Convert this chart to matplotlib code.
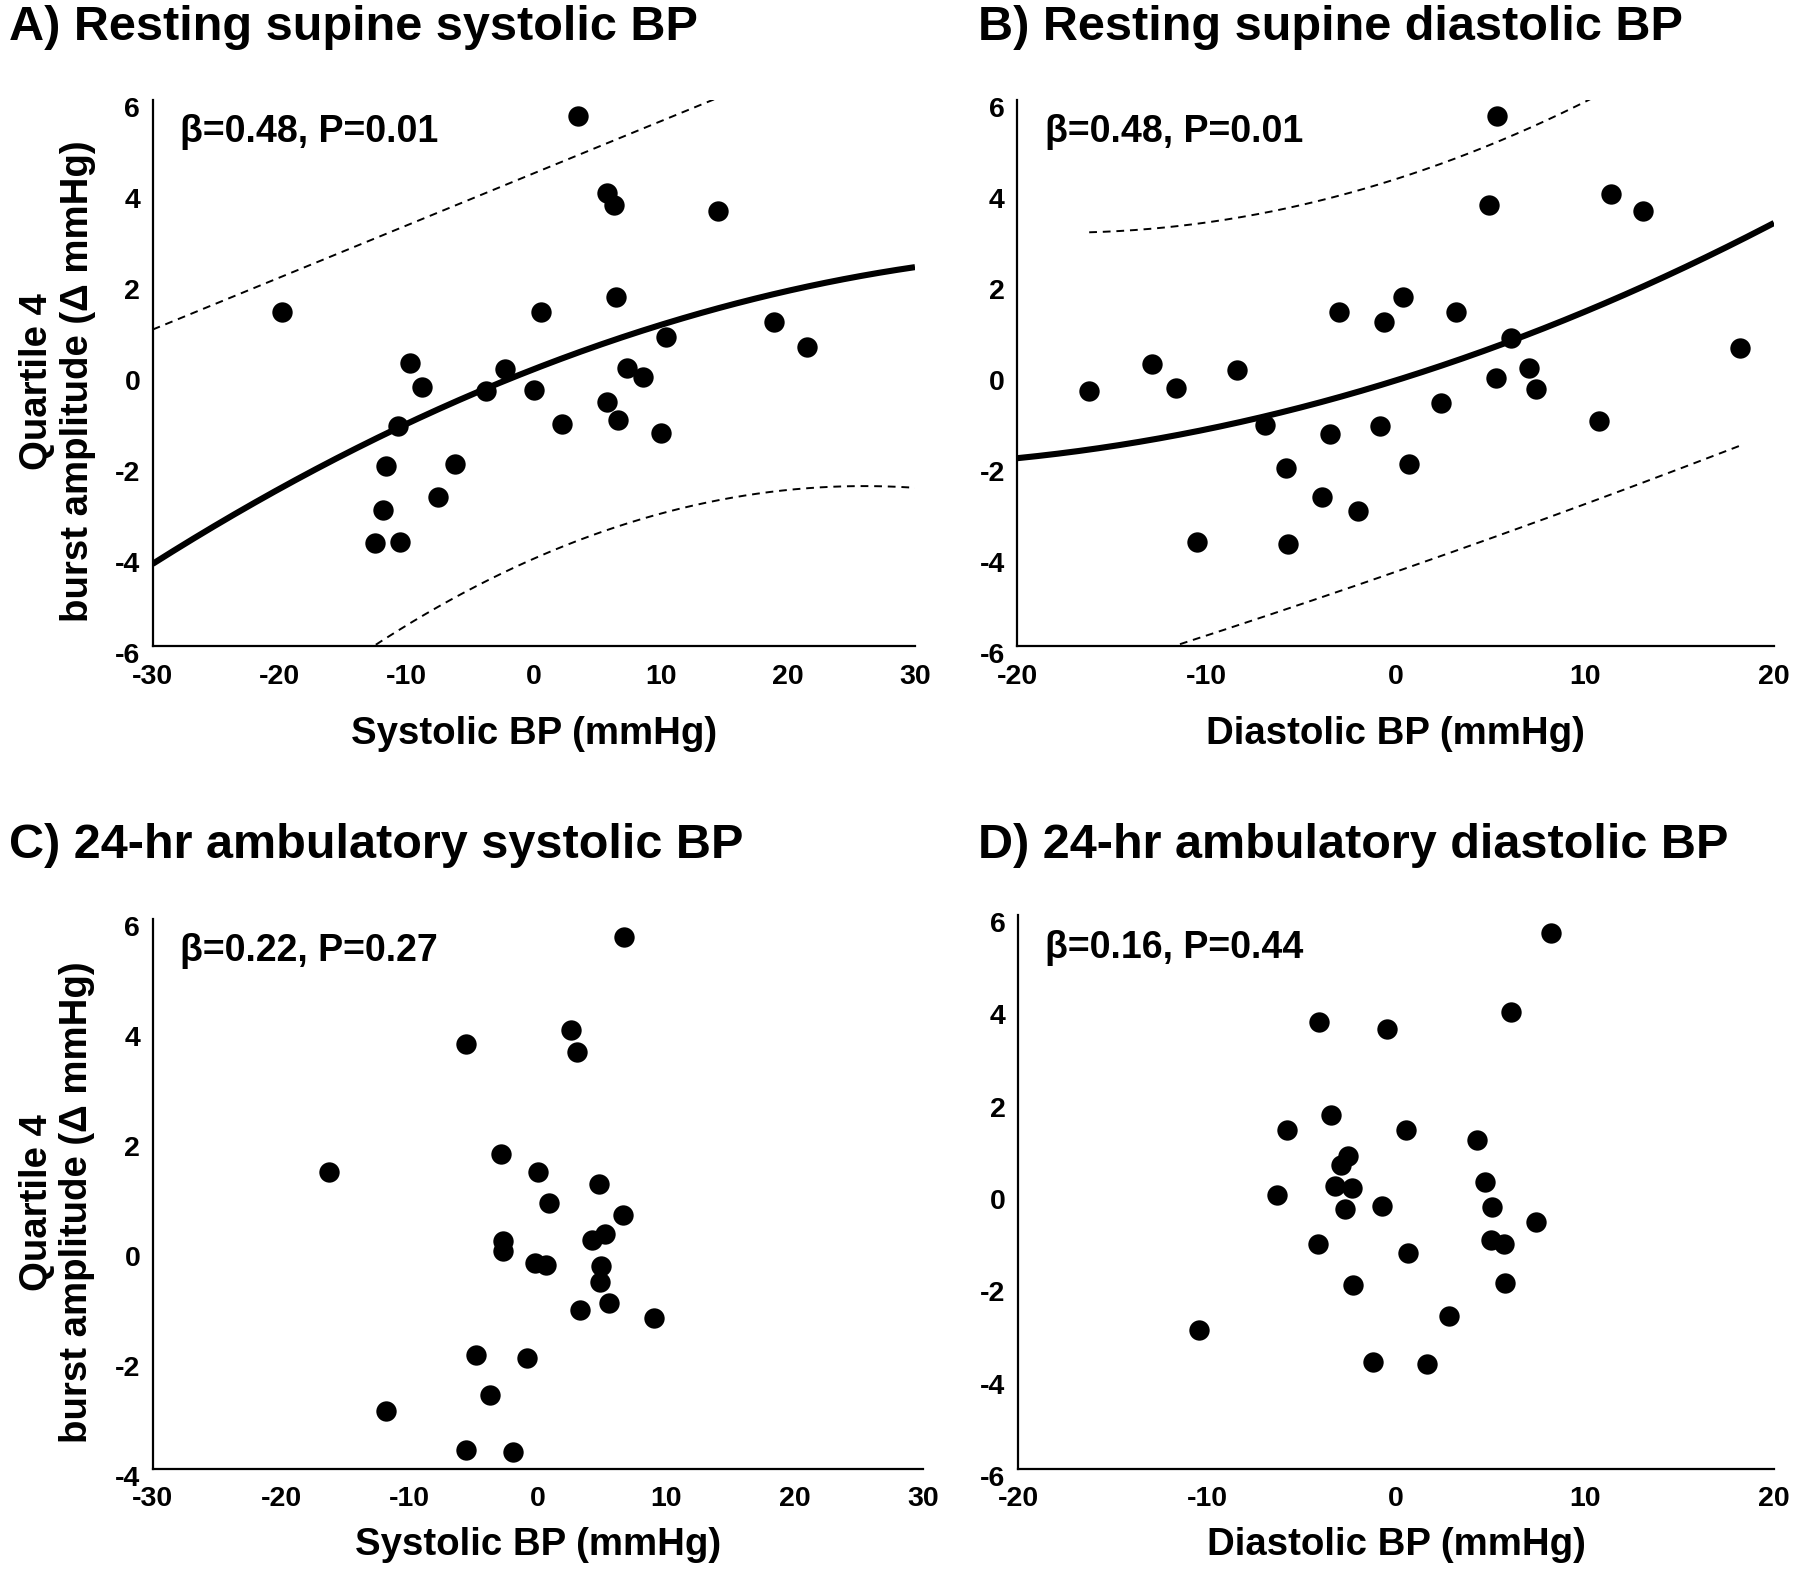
import numpy as np
import matplotlib
matplotlib.use("Agg")
import matplotlib.pyplot as plt
from matplotlib.transforms import ScaledTranslation

plt.rcParams["font.family"] = ["Liberation Sans", "DejaVu Sans"]
plt.rcParams["font.weight"] = "bold"
plt.rcParams["axes.unicode_minus"] = False

# ---- data ----
# A) resting supine systolic BP vs quartile 4 burst amplitude
rest_sys = [-19.8, 3.5, 5.76, 6.33, 14.5, 6.47, 0.59, 18.9, 10.4, 21.5,
            -9.76, -2.3, 7.3, 8.6, -8.8, -3.74, 0.0, 5.76, 6.6, 2.2,
            -10.7, 10.0, -6.2, -11.6, -7.55, -11.9, -12.5, -10.56]
q4_a = [1.35, 5.64, 3.96, 3.69, 3.55, 1.67, 1.35, 1.12, 0.79, 0.57,
        0.21, 0.09, 0.11, -0.09, -0.30, -0.39, -0.37, -0.63, -1.04, -1.12,
        -1.16, -1.31, -1.99, -2.04, -2.73, -3.00, -3.74, -3.71]

# B) resting supine diastolic BP
rest_dia = [-16.2, -12.9, -11.6, -8.36, -6.9, -5.77, -5.68, -10.5, -3.9, -3.46,
            -3.0, -1.98, -0.81, -0.63, 0.39, 0.69, 2.4, 3.2, 4.96, 5.3,
            5.35, 6.08, 7.07, 7.4, 10.75, 11.4, 13.1, 18.2]
q4_b = [-0.39, 0.20, -0.33, 0.06, -1.14, -2.08, -3.76, -3.71, -2.73, -1.33,
        1.35, -3.03, -1.16, 1.11, 1.66, -1.99, -0.65, 1.35, 3.69, -0.11,
        5.64, 0.77, 0.11, -0.36, -1.06, 3.93, 3.55, 0.54]

# C) 24-hr ambulatory systolic BP
amb_sys = [6.70, -5.58, 2.56, 3.02, -2.84, -16.3, 0.0, 4.79, 0.88, 6.6,
           5.2, 4.19, -2.7, -2.7, -0.23, 0.65, 4.88, 4.84, 5.58, 3.26,
           9.07, -4.79, -0.84, -3.72, -11.86, -5.58, -1.9]
q4_c = [5.68, 3.72, 3.98, 3.59, 1.72, 1.40, 1.40, 1.18, 0.84, 0.62,
        0.28, 0.17, 0.15, -0.04, -0.26, -0.29, -0.31, -0.60, -0.99, -1.10,
        -1.25, -1.93, -1.98, -2.66, -2.95, -3.65, -3.69]

# D) 24-hr ambulatory diastolic BP
amb_dia = [8.2, -4.06, -0.45, 6.08, -3.46, -5.77, 0.54, 4.3, -2.56, -2.92,
           -3.25, -2.32, -6.3, 4.72, -0.75, 5.1, -2.68, 7.4, -4.15, 5.0,
           5.7, 0.66, -2.26, 5.77, -10.4, 2.8, -1.2, 1.65]
q4_d = [5.60, 3.68, 3.53, 3.90, 1.66, 1.34, 1.34, 1.12, 0.79, 0.58,
        0.13, 0.09, -0.06, 0.22, -0.31, -0.32, -0.37, -0.65, -1.12, -1.04,
        -1.13, -1.32, -2.01, -1.97, -2.98, -2.69, -3.69, -3.72]

# 95% band curves (x^2, x, 1 coefficients)
band_a_upper = [0.0, 0.1145, 4.39]
band_a_lower = [-0.00236, 0.1227, -4.08]
band_b_upper = [0.00373, 0.1325, 4.26]
band_b_lower = [0.000435, 0.1444, -4.37]

titles = ["A) Resting supine systolic BP", "B) Resting supine diastolic BP",
          "C) 24-hr ambulatory systolic BP", "D) 24-hr ambulatory diastolic BP"]
stats = ["\u03b2=0.48, P=0.01", "\u03b2=0.48, P=0.01",
         "\u03b2=0.22, P=0.27", "\u03b2=0.16, P=0.44"]
xlabels = ["Systolic BP (mmHg)", "Diastolic BP (mmHg)",
           "Systolic BP (mmHg)", "Diastolic BP (mmHg)"]
ylabel = "Quartile 4\nburst amplitude (\u0394 mmHg)"

W, H = 1800, 1570
fig = plt.figure(figsize=(W / 100, H / 100), dpi=100)


def rect(l, t, r, b):
    return [l / W, 1 - b / H, (r - l) / W, (b - t) / H]


def panel(box, x, y, xlim, ylim, title, stat, xlabel, xlab_y, show_ylab,
          xpad=13, bands=None, band_span=None):
    ax = fig.add_axes(rect(*box))
    ax.scatter(x, y, s=215, color="black", zorder=3, linewidths=0)
    if bands is not None:
        xs = np.linspace(xlim[0], xlim[1], 300)
        # second order trend line through the points
        coef = np.polyfit(x, y, 2)
        ax.plot(xs, np.polyval(coef, xs), color="black", lw=4.4,
                solid_capstyle="butt")
        lo_x, hi_x = band_span if band_span else xlim
        xb = np.linspace(lo_x, hi_x, 300)
        for c in bands:
            ax.plot(xb, np.polyval(c, xb), color="black", lw=1.4,
                    ls=(0, (4, 3)))
    ax.set_xlim(*xlim)
    ax.set_ylim(*ylim)
    ax.set_xticks(np.arange(xlim[0], xlim[1] + 1, 10))
    ax.set_yticks(np.arange(ylim[0], ylim[1] + 1, 2))
    for s in ["top", "right"]:
        ax.spines[s].set_visible(False)
    for s in ["left", "bottom"]:
        ax.spines[s].set_linewidth(1.6)
    ax.tick_params(length=0, labelsize=20.5)
    ax.tick_params(axis="x", pad=xpad)
    ax.tick_params(axis="y", pad=9)
    off = ScaledTranslation(0, -0.07, fig.dpi_scale_trans)
    for lab in ax.get_yticklabels():
        lab.set_transform(lab.get_transform() + off)
        lab.set_fontweight("bold")
    for lab in ax.get_xticklabels():
        lab.set_fontweight("bold")
    ax.set_xlabel(xlabel, fontsize=27.6, fontweight="bold")
    ax.xaxis.set_label_coords(0.5, xlab_y)
    if show_ylab:
        ax.set_ylabel(ylabel, fontsize=27.6, fontweight="bold", linespacing=1.15)
        ax.yaxis.set_label_coords(-0.075, 0.485)
    ax.text(0.036, 0.923, stat, transform=ax.transAxes, fontsize=27,
            fontweight="bold", va="baseline", ha="left")
    return ax


panel((152.7, 100, 915, 646), rest_sys, q4_a, (-30, 30), (-6, 6),
      titles[0], stats[0], xlabels[0], -0.128, True,
      bands=[band_a_upper, band_a_lower])
panel((1017.3, 100, 1774, 646), rest_dia, q4_b, (-20, 20), (-6, 6),
      titles[1], stats[1], xlabels[1], -0.128, False,
      bands=[band_b_upper, band_b_lower], band_span=(min(rest_dia), max(rest_dia)))
panel((152.7, 919, 923, 1469), amb_sys, q4_c, (-30, 30), (-4, 6),
      titles[2], stats[2], xlabels[2], -0.105, True, xpad=12)
panel((1018, 915, 1774, 1469), amb_dia, q4_d, (-20, 20), (-6, 6),
      titles[3], stats[3], xlabels[3], -0.105, False, xpad=12)

for i, (tx, ty) in enumerate([(9, 27), (978, 27), (9, 846), (978, 846)]):
    fig.text(tx / W, 1 - ty / H, titles[i], fontsize=35, fontweight="bold",
             ha="left", va="center")

fig.savefig("out.png", dpi=100, facecolor="white")
